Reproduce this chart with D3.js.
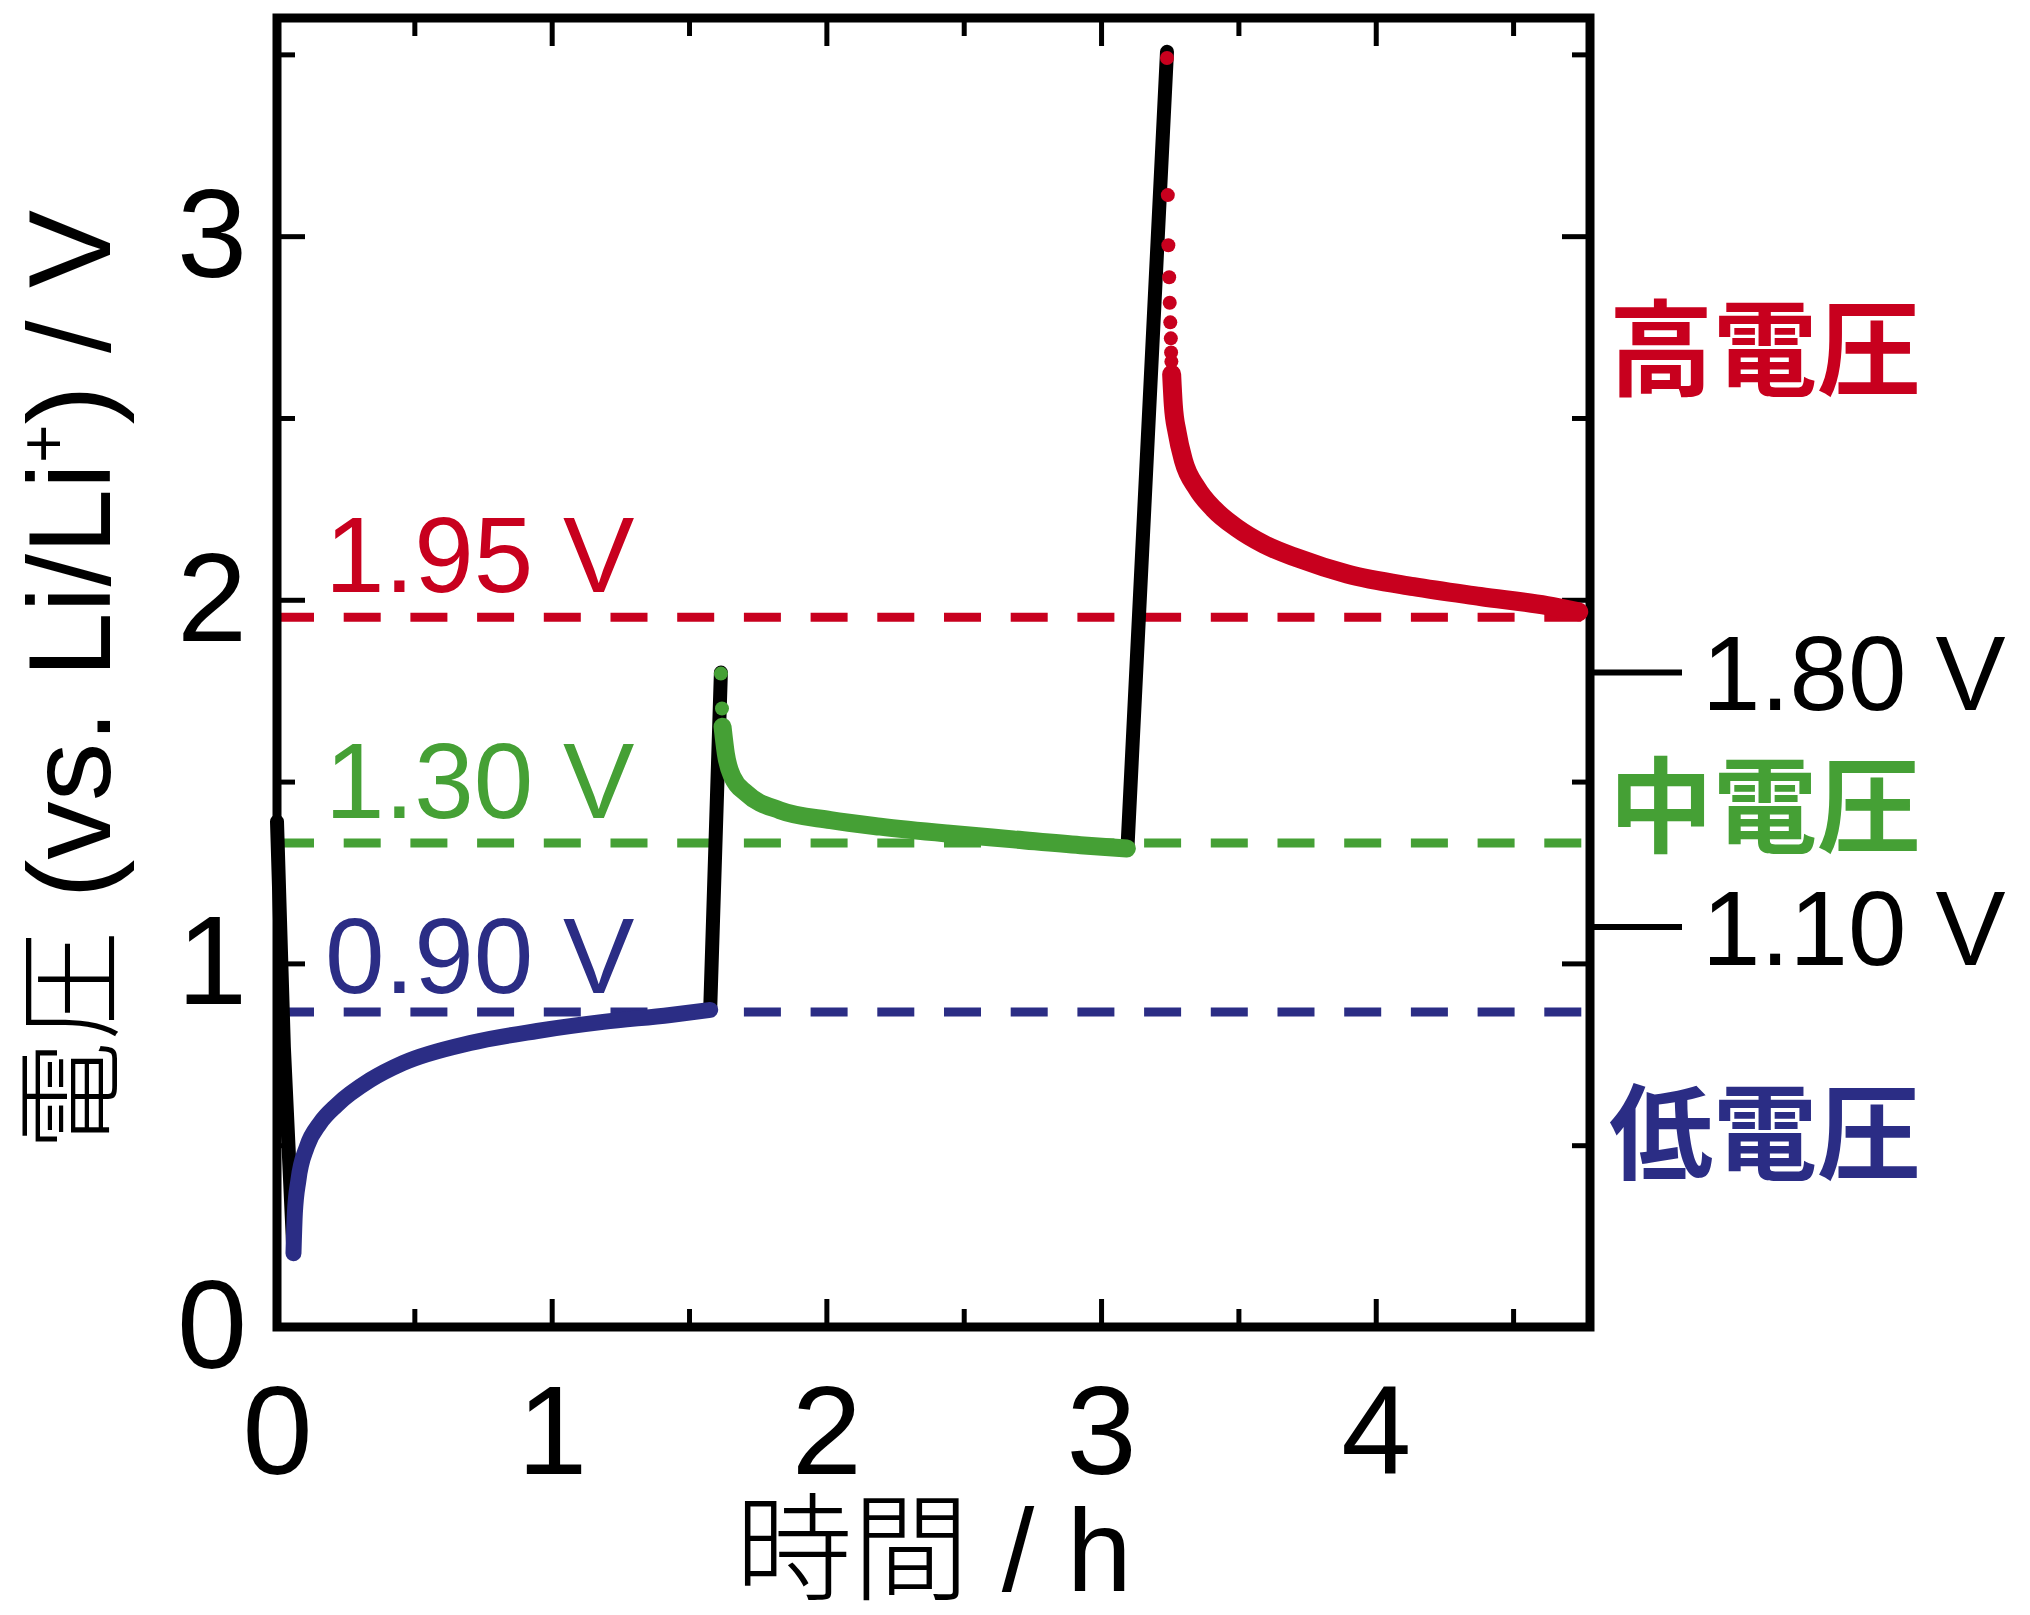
<!DOCTYPE html>
<html>
<head>
<meta charset="utf-8">
<script src="https://cdn.jsdelivr.net/npm/d3@7"></script>
<style>
    body { margin: 0; background: #fff; }
    svg text { font-family: "Liberation Sans", Arial, sans-serif; }
    .cjk { font-family: "Noto Sans CJK JP", sans-serif; }
</style>
</head>
<body>
<svg id="chart" width="2030" height="1615"></svg>
<script>
// axis ticks
const xTicks = [0, 1, 2, 3, 4]
const xMinor = [0.5, 1.5, 2.5, 3.5, 4.5]
const yTicks = [0, 1, 2, 3]
const yMinor = [0.5, 1.5, 2.5, 3.5]

// [time / h, voltage / V]
const blackSegments = [
    [[0, 1.39], [0.025, 0.77], [0.06, 0.203]],
    [[1.577, 0.872], [1.616, 1.80]],
    [[3.096, 1.316], [3.24, 3.507]]
]
const lowSeries = [
    [0.06, 0.203], [0.065, 0.313], [0.078, 0.404], [0.109, 0.496], [0.157, 0.561],
    [0.217, 0.610], [0.339, 0.679], [0.459, 0.726], [0.703, 0.781], [0.947, 0.814],
    [1.188, 0.839], [1.432, 0.858], [1.577, 0.872]
]
const midDots = [[1.616, 1.797], [1.620, 1.701]]
const midSeries = [
    [1.622, 1.651], [1.634, 1.577], [1.658, 1.513], [1.710, 1.467], [1.831, 1.421],
    [2.015, 1.394], [2.196, 1.376], [2.439, 1.357], [2.681, 1.341], [2.925, 1.325],
    [3.094, 1.316]
]
const highDots = [
    [3.240, 3.49], [3.243, 3.113], [3.245, 2.975], [3.248, 2.887], [3.250, 2.817],
    [3.252, 2.763], [3.254, 2.719], [3.255, 2.68], [3.256, 2.655]
]
const highSeries = [
    [3.257, 2.62], [3.263, 2.536], [3.277, 2.46], [3.30, 2.383], [3.35, 2.306],
    [3.41, 2.25], [3.495, 2.197], [3.592, 2.153], [3.714, 2.115], [3.896, 2.071],
    [4.138, 2.036], [4.381, 2.009], [4.624, 1.984], [4.739, 1.967]
]

// dashed reference levels and their labels
const refValues = [1.952, 1.331, 0.866]
const refLabels = ['1.95 V', '1.30 V', '0.90 V']

// markers outside the right axis
const sideValues = [1.80, 1.10]
const sideLabels = ['1.80 V', '1.10 V']

// category labels on the right
const levelNames = ['高電圧', '中電圧', '低電圧']
const levelValues = [2.707, 1.450, 0.552]

const RED = '#c8001e'
const GREEN = '#45a035'
const BLUE = '#2b2d85'
const levelColors = [RED, GREEN, BLUE]

const frame = { left: 277, right: 1590, top: 18, bottom: 1327 }

const svg = d3.select('#chart')
const x = d3.scaleLinear([0, 4.78], [frame.left, frame.right])
const y = d3.scaleLinear([0, 3.6], [frame.bottom, frame.top])

function styleAxis(g) {
    g.select('.domain').remove()
    g.attr('font-family', '"Liberation Sans", Arial, sans-serif').attr('font-size', 126)
    g.selectAll('.tick line').attr('stroke', '#000').attr('stroke-width', 5)
    g.selectAll('.tick text').attr('fill', '#000')
}

function drawAxes() {
    svg.append('g')
        .attr('transform', `translate(0,${frame.bottom})`)
        .call(d3.axisBottom(x).tickValues(xTicks).tickSize(-28).tickPadding(58).tickFormat(d3.format('d')))
        .call(styleAxis)
    svg.append('g')
        .attr('transform', `translate(0,${frame.bottom})`)
        .call(d3.axisBottom(x).tickValues(xMinor).tickSize(-18).tickFormat(''))
        .call(styleAxis)
    svg.append('g')
        .attr('transform', `translate(0,${frame.top})`)
        .call(d3.axisTop(x).tickValues(xTicks).tickSize(-28).tickFormat(''))
        .call(styleAxis)
    svg.append('g')
        .attr('transform', `translate(0,${frame.top})`)
        .call(d3.axisTop(x).tickValues(xMinor).tickSize(-18).tickFormat(''))
        .call(styleAxis)
    svg.append('g')
        .attr('transform', `translate(${frame.left},0)`)
        .call(d3.axisLeft(y).tickValues(yTicks).tickSize(-28).tickPadding(30).tickFormat(d3.format('d')))
        .call(styleAxis)
    svg.append('g')
        .attr('transform', `translate(${frame.left},0)`)
        .call(d3.axisLeft(y).tickValues(yMinor).tickSize(-18).tickFormat(''))
        .call(styleAxis)
    svg.append('g')
        .attr('transform', `translate(${frame.right},0)`)
        .call(d3.axisRight(y).tickValues(yTicks).tickSize(-28).tickFormat(''))
        .call(styleAxis)
    svg.append('g')
        .attr('transform', `translate(${frame.right},0)`)
        .call(d3.axisRight(y).tickValues(yMinor).tickSize(-18).tickFormat(''))
        .call(styleAxis)

    svg.append('rect')
        .attr('x', frame.left)
        .attr('y', frame.top)
        .attr('width', frame.right - frame.left)
        .attr('height', frame.bottom - frame.top)
        .attr('fill', 'none')
        .attr('stroke', '#000')
        .attr('stroke-width', 9)
}

function drawTitles() {
    svg.append('text')
        .attr('x', (frame.left + frame.right) / 2)
        .attr('y', 1591)
        .attr('text-anchor', 'middle')
        .attr('font-size', 117)
        .call(t => {
            t.append('tspan').attr('class', 'cjk').attr('font-weight', 300).text('時間')
            t.append('tspan').text(' / h')
        })

    svg.append('text')
        .attr('transform', `translate(110,${(frame.top + frame.bottom) / 2 + 8}) rotate(-90)`)
        .attr('text-anchor', 'middle')
        .attr('font-size', 117)
        .call(t => {
            t.append('tspan').attr('class', 'cjk').attr('font-weight', 300).attr('font-size', 110).text('電圧')
            t.append('tspan').text(' (vs. Li/Li')
            t.append('tspan').attr('font-size', 66).attr('dy', -44).text('+')
            t.append('tspan').attr('dy', 44).text(') / V')
        })
}

function drawReferences() {
    svg.selectAll()
        .data(refValues)
        .enter()
        .append('line')
        .attr('x1', frame.left)
        .attr('x2', frame.right)
        .attr('y1', d => y(d))
        .attr('y2', d => y(d))
        .attr('stroke', (d, i) => levelColors[i])
        .attr('stroke-width', 9)
        .attr('stroke-dasharray', '37 29.7')

    svg.selectAll()
        .data(refValues)
        .enter()
        .append('text')
        .attr('x', 325)
        .attr('y', (d, i) => y(d) - (i === 2 ? 19 : 25))
        .attr('font-size', 107)
        .attr('fill', (d, i) => levelColors[i])
        .text((d, i) => refLabels[i])
}

function drawCurves() {
    const line = d3.line().x(d => x(d[0])).y(d => y(d[1]))
    const smooth = d3.line().x(d => x(d[0])).y(d => y(d[1])).curve(d3.curveMonotoneX)

    svg.selectAll()
        .data(blackSegments)
        .enter()
        .append('path')
        .attr('d', line)
        .attr('fill', 'none')
        .attr('stroke', '#000')
        .attr('stroke-width', 14)
        .attr('stroke-linecap', 'round')
        .attr('stroke-linejoin', 'round')

    const series = [
        { data: lowSeries, color: BLUE, width: 16 },
        { data: midSeries, color: GREEN, width: 18 },
        { data: highSeries, color: RED, width: 19 }
    ]
    svg.selectAll()
        .data(series)
        .enter()
        .append('path')
        .attr('d', d => smooth(d.data))
        .attr('fill', 'none')
        .attr('stroke', d => d.color)
        .attr('stroke-width', d => d.width)
        .attr('stroke-linecap', 'round')
        .attr('stroke-linejoin', 'round')

    const dots = [
        ...midDots.map(p => ({ p, color: GREEN })),
        ...highDots.map(p => ({ p, color: RED }))
    ]
    svg.selectAll()
        .data(dots)
        .enter()
        .append('circle')
        .attr('cx', d => x(d.p[0]))
        .attr('cy', d => y(d.p[1]))
        .attr('r', 7)
        .attr('fill', d => d.color)
}

function drawSideLabels() {
    svg.selectAll()
        .data(sideValues)
        .enter()
        .append('line')
        .attr('x1', frame.right)
        .attr('x2', 1682)
        .attr('y1', d => y(d))
        .attr('y2', d => y(d))
        .attr('stroke', '#000')
        .attr('stroke-width', 6)

    svg.selectAll()
        .data(sideValues)
        .enter()
        .append('text')
        .attr('x', 1702)
        .attr('y', d => y(d))
        .attr('dy', '0.36em')
        .attr('font-size', 105)
        .attr('fill', '#000')
        .text((d, i) => sideLabels[i])

    svg.selectAll()
        .data(levelValues)
        .enter()
        .append('text')
        .attr('class', 'cjk')
        .attr('x', 1609)
        .attr('y', d => y(d))
        .attr('dominant-baseline', 'central')
        .attr('font-size', 104)
        .attr('font-weight', 700)
        .attr('fill', (d, i) => levelColors[i])
        .text((d, i) => levelNames[i])
}

drawReferences()
drawAxes()
drawCurves()
drawSideLabels()
drawTitles()
</script>
</body>
</html>
